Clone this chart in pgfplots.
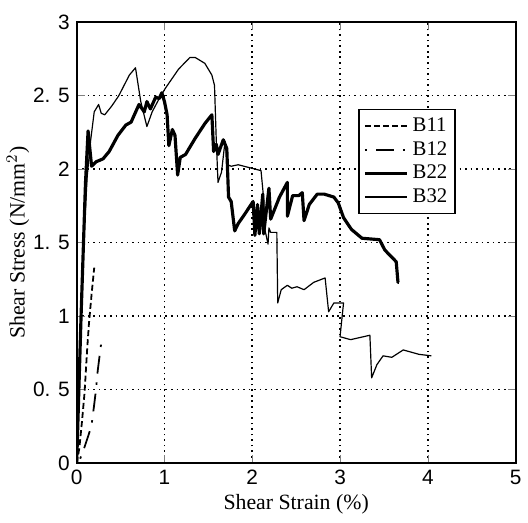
\documentclass[border=0pt]{standalone}
\usepackage{fontspec}
\setmainfont{Liberation Serif}
\newfontfamily\tickfont{Liberation Sans}
\usepackage{pgfplots}
\pgfplotsset{compat=1.18}

\begin{document}
\begin{tikzpicture}
\begin{axis}[
  scale only axis, width=221.5pt, height=222.5pt,
  xmin=0, xmax=5, ymin=0, ymax=3,
  xtick={0,1,2,3,4,5}, xticklabels={0,1,2,3,4,5},
  ytick={0,0.5,1,1.5,2,2.5,3}, yticklabels={0,0. 5,1,1. 5,2,2. 5,3},
  ticklabel style={font=\tickfont\fontsize{10.5}{10.5}\selectfont},
  tick align=inside, major tick length=4pt,
  grid=major,
  major grid style={black, line width=0.8pt, dotted},
  axis line style={line width=1.1pt},
  title={\ }, title style={inner sep=0pt, text height=5pt},
  xlabel={Shear Strain (\%)}, ylabel={Shear Stress (N/mm$^{2}$)},
  label style={font=\fontsize{11}{11}\selectfont},
  xlabel style={yshift=2pt, text depth=3pt},
  ylabel style={yshift=-5pt},
  legend style={at={(axis cs:3.21,2.41)}, anchor=north west, draw=black,
    line width=0.8pt, fill=white, font=\fontsize{10.5}{10.5}\selectfont,
    row sep=-0.5pt, inner sep=2pt},
  legend cell align=left,
  legend image code/.code={\draw[#1] (0cm,0cm) -- (0.75cm,0cm);},
]
\addplot[black, line width=0.9pt, line join=round, dash pattern=on 3pt off 1.6pt] coordinates {
(0,0) (0.03,0.1) (0.06,0.28) (0.09,0.48) (0.12,0.78) (0.14,0.95) (0.17,1.15) (0.2,1.33)};
\addplot[black, line width=0.9pt, line join=round, dash pattern=on 1.2pt off 4.5pt on 9pt off 4.5pt] coordinates {
(0.04,0.03) (0.09,0.11) (0.14,0.2) (0.17,0.26) (0.2,0.4) (0.22,0.5) (0.24,0.63) (0.28,0.82)};
\addplot[black, line width=1.6pt, line join=round] coordinates {
(0,0) (0.05,1.0) (0.1,1.9) (0.13,2.26) (0.17,2.02) (0.22,2.05) (0.30,2.07) (0.37,2.12)
(0.47,2.23) (0.56,2.30) (0.62,2.32) (0.71,2.44) (0.77,2.39) (0.80,2.46) (0.84,2.41)
(0.90,2.49) (0.94,2.48) (0.97,2.52) (1.0,2.46) (1.03,2.37) (1.05,2.16) (1.09,2.27)
(1.12,2.23) (1.15,1.96) (1.18,2.08) (1.24,2.10) (1.35,2.21) (1.46,2.31) (1.54,2.37)
(1.56,2.12) (1.59,2.17) (1.61,2.10) (1.67,2.20) (1.71,2.14) (1.73,1.81) (1.76,1.78)
(1.80,1.58) (1.84,1.63) (1.91,1.69) (2.01,1.78) (2.03,1.55) (2.06,1.76) (2.08,1.56)
(2.12,1.83) (2.13,1.56) (2.19,1.87) (2.21,1.66) (2.31,1.81) (2.40,1.91) (2.40,1.68)
(2.46,1.82) (2.53,1.82) (2.57,1.84) (2.59,1.65) (2.65,1.76) (2.74,1.83) (2.82,1.83)
(2.93,1.81) (2.98,1.77) (3.04,1.67) (3.13,1.59) (3.25,1.53) (3.45,1.52) (3.51,1.45)
(3.64,1.37) (3.66,1.23) (3.67,1.23)};
\addplot[black, line width=0.6pt, line join=round] coordinates {
(0,0) (0.04,0.8) (0.08,1.5) (0.12,1.95) (0.16,2.2) (0.2,2.39) (0.25,2.44) (0.28,2.38)
(0.32,2.37) (0.40,2.43) (0.48,2.5) (0.6,2.64) (0.67,2.69) (0.73,2.46) (0.8,2.29)
(0.86,2.39) (0.94,2.48) (1.01,2.55) (1.16,2.68) (1.29,2.76) (1.35,2.76) (1.46,2.72)
(1.54,2.64) (1.57,2.57) (1.59,2.2) (1.61,1.91) (1.65,1.98) (1.69,2.19) (1.72,2.03)
(1.76,2.02) (1.84,2.03) (1.97,2.01) (2.1,1.99) (2.13,1.8) (2.14,1.6) (2.18,1.49)
(2.19,1.6) (2.21,1.57) (2.28,1.57) (2.29,1.09) (2.33,1.18) (2.40,1.21) (2.45,1.19)
(2.51,1.2) (2.59,1.18) (2.70,1.23) (2.83,1.26) (2.87,1.03) (2.93,1.09) (3.04,1.09)
(3.0,0.86) (3.12,0.84) (3.34,0.87) (3.36,0.58) (3.42,0.67) (3.49,0.73) (3.59,0.72)
(3.72,0.77) (3.90,0.74) (4.04,0.73)};
\legend{B11,B12,B22,B32}
\end{axis}
\end{tikzpicture}
\end{document}
